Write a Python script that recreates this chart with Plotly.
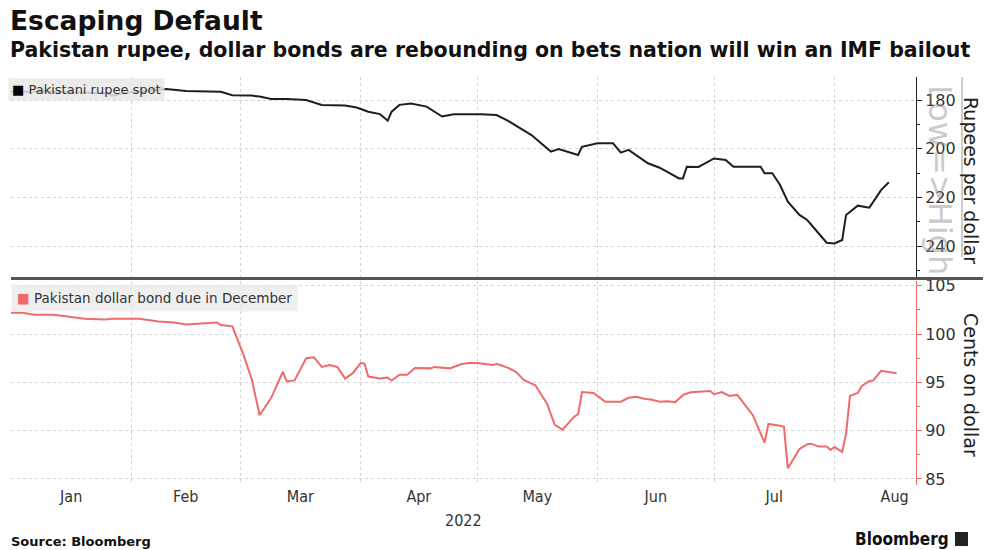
import plotly.graph_objects as go

rupee_dates = ["2022-01-01","2022-01-11","2022-01-26","2022-01-27","2022-01-31","2022-02-10","2022-02-15","2022-02-18",
               "2022-02-24","2022-02-27","2022-03-04","2022-03-06","2022-03-09","2022-03-13","2022-03-18","2022-03-22",
               "2022-03-28","2022-03-31","2022-04-03","2022-04-06","2022-04-08","2022-04-09","2022-04-11","2022-04-14",
               "2022-04-18","2022-04-22","2022-04-25","2022-04-29","2022-05-02","2022-05-06","2022-05-09","2022-05-15",
               "2022-05-20","2022-05-22","2022-05-27","2022-05-28","2022-06-01","2022-06-05","2022-06-07","2022-06-09",
               "2022-06-14","2022-06-17","2022-06-22","2022-06-23","2022-06-24","2022-06-27","2022-07-01","2022-07-04",
               "2022-07-06","2022-07-13","2022-07-14","2022-07-16","2022-07-18","2022-07-20","2022-07-23","2022-07-25",
               "2022-07-29","2022-07-30","2022-08-01","2022-08-03","2022-08-04","2022-08-06","2022-08-07","2022-08-10",
               "2022-08-11","2022-08-13","2022-08-15"]
rupee_vals = [176.6,176.6,177.3,178.2,176.9,175.5,176.3,176.3,
              176.6,178.0,178.2,178.6,179.6,179.6,180.0,182.0,
              182.3,183.1,184.8,185.8,188.5,184.8,182.0,181.4,
              182.7,186.8,185.9,185.9,185.8,186.2,188.6,194.4,
              201.2,200.1,202.6,199.2,197.8,197.8,201.6,200.5,
              206.0,207.8,212.2,212.2,207.4,207.5,204.0,204.6,
              207.4,207.4,210.1,210.1,214.9,221.8,227.2,229.3,
              236.8,238.6,238.9,237.5,227.2,224.5,223.4,224.2,
              221.8,217.0,213.8]

bond_dates = ["2022-01-01","2022-01-04","2022-01-07","2022-01-12","2022-01-20","2022-01-25","2022-01-27","2022-02-03",
              "2022-02-08","2022-02-12","2022-02-15","2022-02-18","2022-02-23","2022-02-24","2022-02-27","2022-03-02",
              "2022-03-04","2022-03-06","2022-03-09","2022-03-12","2022-03-13","2022-03-15","2022-03-18","2022-03-20",
              "2022-03-22","2022-03-24","2022-03-26","2022-03-28","2022-03-30","2022-04-01","2022-04-02","2022-04-03",
              "2022-04-06","2022-04-08","2022-04-09","2022-04-11","2022-04-13","2022-04-15","2022-04-19","2022-04-20",
              "2022-04-24","2022-04-27","2022-04-29","2022-05-01","2022-05-05","2022-05-06","2022-05-07","2022-05-09",
              "2022-05-11","2022-05-13","2022-05-16","2022-05-19","2022-05-21","2022-05-23","2022-05-26","2022-05-27",
              "2022-05-28","2022-05-31","2022-06-03","2022-06-07","2022-06-09","2022-06-11","2022-06-13","2022-06-15",
              "2022-06-17","2022-06-19","2022-06-21","2022-06-23","2022-06-25","2022-06-30","2022-07-01","2022-07-03",
              "2022-07-05","2022-07-07","2022-07-09","2022-07-11","2022-07-14","2022-07-15","2022-07-18","2022-07-19",
              "2022-07-20","2022-07-21","2022-07-23","2022-07-25","2022-07-26","2022-07-28","2022-07-30","2022-07-31",
              "2022-08-01","2022-08-03","2022-08-04","2022-08-05","2022-08-07","2022-08-08","2022-08-10","2022-08-11",
              "2022-08-13","2022-08-17"]
bond_vals = [102.2,102.2,102.0,102.0,101.6,101.5,101.6,101.6,
             101.3,101.2,101.0,101.1,101.2,100.95,100.8,97.7,
             95.3,91.6,93.4,96.1,95.1,95.2,97.5,97.6,
             96.6,96.8,96.6,95.4,95.95,97.0,96.95,95.6,
             95.4,95.5,95.2,95.8,95.8,96.5,96.45,96.6,
             96.45,96.9,97.0,97.0,96.8,96.9,96.8,96.5,
             96.1,95.25,94.7,92.8,90.6,90.1,91.45,91.7,
             94.0,93.9,93.0,93.0,93.4,93.5,93.3,93.2,
             93.0,93.05,92.95,93.7,93.98,94.1,93.77,94.0,
             93.6,93.7,92.66,91.6,88.75,90.7,90.5,90.4,
             86.1,86.8,88.1,88.6,88.65,88.35,88.35,88.0,
             88.3,87.8,89.7,93.6,93.9,94.6,95.15,95.2,
             96.2,95.95]

rupee_ticks = [180, 200, 220, 240]
bond_ticks = [85, 90, 95, 100, 105]

TXT = "#333333"
GRID = "#d4d4d4"
RED = "#ef6b6b"
FONT = "DejaVu Sans"
NARROW = "DejaVu Sans Condensed, Liberation Sans Narrow, DejaVu Sans"

# pixel -> paper helpers (plot area: x 11..916, y 77..485)
def px(xp):
    return (xp - 11) / 905.0

def py(yp):
    return (485 - yp) / 408.0

fig = go.Figure()
fig.add_trace(go.Scatter(x=rupee_dates, y=rupee_vals, mode="lines", xaxis="x2", yaxis="y2",
                         line=dict(color="#1e1e1e", width=2), showlegend=False, hoverinfo="skip"))
fig.add_trace(go.Scatter(x=bond_dates, y=bond_vals, mode="lines", xaxis="x", yaxis="y",
                         line=dict(color=RED, width=2), showlegend=False, hoverinfo="skip"))

xcommon = dict(type="date", range=["2022-01-01", "2022-08-22"], dtick="M1", tick0="2022-01-01",
               showgrid=True, gridcolor=GRID, griddash="dot", gridwidth=1, zeroline=False,
               showline=False, ticks="")

fig.update_layout(
    width=985, height=550,
    margin=dict(l=11, r=69, t=77, b=65),
    paper_bgcolor="white", plot_bgcolor="white",
    font=dict(family=FONT, color=TXT),
    xaxis=dict(**xcommon, anchor="y", ticklabelmode="period", tickformat="%b",
               tickfont=dict(size=16, color=TXT, family=NARROW)),
    xaxis2=dict(**xcommon, anchor="y2", matches="x", showticklabels=False),
    yaxis=dict(domain=[0, 0.5], range=[84.37, 105.5], side="right", anchor="x",
               tickvals=bond_ticks, showgrid=True, gridcolor=GRID, griddash="dot", zeroline=False,
               showline=True, linecolor=RED, linewidth=1, ticks="outside", ticklen=5, tickcolor=RED,
               minor=dict(dtick=2.5, tick0=85, ticks="outside", ticklen=3, tickcolor=RED, showgrid=False),
               tickfont=dict(size=16, color=TXT)),
    yaxis2=dict(domain=[0.5098, 1], range=[252.7, 170.55], side="right", anchor="x2",
                tickvals=rupee_ticks, showgrid=True, gridcolor=GRID, griddash="dot", zeroline=False,
                showline=True, linecolor="#222222", linewidth=1, ticks="outside", ticklen=5, tickcolor="#222222",
                minor=dict(dtick=10, tick0=180, ticks="outside", ticklen=3, tickcolor="#222222", showgrid=False),
                tickfont=dict(size=16, color=TXT)),
)

shapes = [
    # panel separator
    dict(type="line", xref="paper", yref="paper", x0=0, x1=px(983), y0=py(278.5), y1=py(278.5),
         line=dict(color="#555555", width=3)),
    # thin vertical line beside rupee axis title
    dict(type="line", xref="paper", yref="paper", x0=px(962), x1=px(962), y0=py(77), y1=py(257),
         line=dict(color="#9a9a9a", width=1)),
    # logo square
    dict(type="rect", xref="paper", yref="paper", x0=px(955), x1=px(968), y0=py(546), y1=py(532),
         fillcolor="#222222", line=dict(width=0)),
]
fig.update_layout(shapes=shapes)

ann = [
    dict(text="<b>Escaping Default</b>", x=px(8), y=py(20), xanchor="left", yanchor="middle",
         font=dict(size=26.5, color="#111111", family=FONT)),
    dict(text="<b>Pakistan rupee, dollar bonds are rebounding on bets nation will win an IMF bailout</b>",
         x=px(8), y=py(50), xanchor="left", yanchor="middle",
         font=dict(size=20.5, color="#111111", family=FONT)),
    dict(text="Low=>High", x=px(940), y=py(180), xanchor="center", yanchor="middle", textangle=90,
         font=dict(size=32, color="rgba(150,150,150,0.5)", family=FONT)),
    dict(text="Rupees per dollar", x=px(971), y=py(180), xanchor="center", yanchor="middle", textangle=90,
         font=dict(size=19, color="#222222", family=FONT)),
    dict(text="Cents on dollar", x=px(971), y=py(385), xanchor="center", yanchor="middle", textangle=90,
         font=dict(size=19, color="#222222", family=FONT)),
    dict(text="<span style='color:#000000'>■</span> Pakistani rupee spot", x=px(8), y=py(78),
         xanchor="left", yanchor="top", bgcolor="rgba(232,232,232,0.85)", borderpad=3,
         font=dict(size=13, color=TXT, family=FONT)),
    dict(text="<span style='color:%s'>■</span> Pakistan dollar bond due in December" % RED, x=px(11), y=py(284),
         xanchor="left", yanchor="top", bgcolor="rgba(236,236,236,0.85)", borderpad=5,
         font=dict(size=13.5, color=TXT, family=FONT)),
    dict(text="2022", x=px(463), y=py(520), xanchor="center", yanchor="middle",
         font=dict(size=16, color=TXT, family=NARROW)),
    dict(text="<b>Source: Bloomberg</b>", x=px(9), y=py(541), xanchor="left", yanchor="middle",
         font=dict(size=13, color="#111111", family=FONT)),
    dict(text="<b>Bloomberg</b>", x=px(951), y=py(539), xanchor="right", yanchor="middle",
         font=dict(size=17, color="#111111", family=NARROW)),
]
for a in ann:
    a.setdefault("xref", "paper")
    a.setdefault("yref", "paper")
    a["showarrow"] = False
fig.update_layout(annotations=ann)

fig.write_html("out.html")
